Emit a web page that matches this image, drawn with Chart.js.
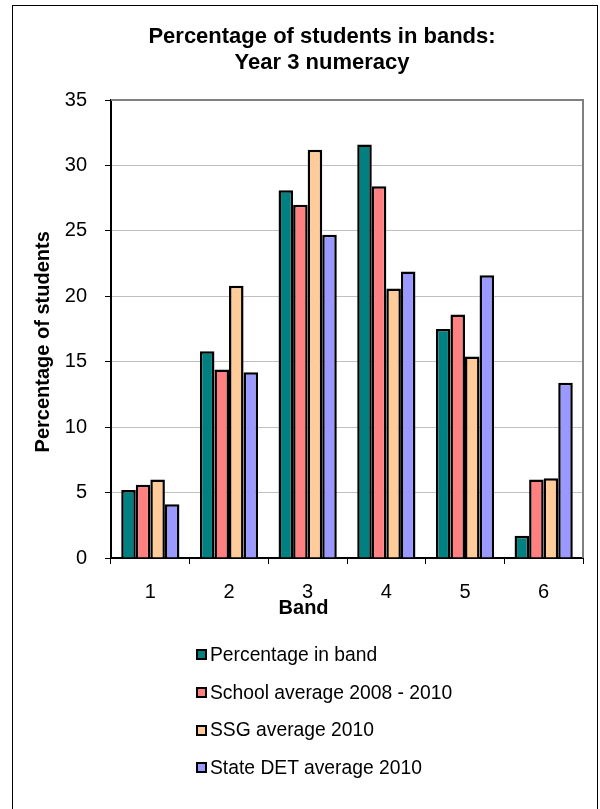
<!DOCTYPE html>
<html><head><meta charset="utf-8">
<script src="https://cdn.jsdelivr.net/npm/chart.js@4"></script>
<style>
html,body{margin:0;padding:0;background:#fff;}
#wrap{position:relative;width:600px;height:809px;overflow:hidden;}
#frame{position:absolute;left:12px;top:5px;width:584px;height:900px;border:1px solid #000;pointer-events:none;}
canvas{position:absolute;left:0;top:0;}
#legend{position:absolute;left:196px;top:636px;font-family:'Liberation Sans',Arial,sans-serif;font-size:19.3px;color:#000;}
.item{display:flex;align-items:center;height:37.7px;white-space:nowrap;}
.box{width:11px;height:11px;box-sizing:border-box;border:2px solid #000;margin-right:3px;}
</style></head>
<body><div id="wrap"><canvas id="c" width="600" height="809"></canvas><div id="frame"></div><div id="legend"></div></div>
<script>
const bands = ['1', '2', '3', '4', '5', '6'];
const percentageInBand = [5.2, 15.8, 28.1, 31.6, 17.5, 1.7];
const schoolAverage = [5.6, 14.4, 27.0, 28.4, 18.6, 6.0];
const ssgAverage = [6.0, 20.8, 31.2, 20.6, 15.4, 6.1];
const stateAverage = [4.1, 14.2, 24.7, 21.9, 21.6, 13.4];
const seriesNames = ['Percentage in band', 'School average 2008 - 2010', 'SSG average 2010', 'State DET average 2010'];
const seriesColors = ['#008080', '#FF8080', '#FFCC99', '#9999FF'];
const titleLines = ['Percentage of students in bands:', 'Year 3 numeracy'];
const yTitle = 'Percentage of students';
const xTitle = 'Band';
const yMin = 0, yMax = 35, yStep = 5;

const FONT = "'Liberation Sans', Arial, sans-serif";
Chart.defaults.font.family = FONT;
Chart.defaults.color = '#000';

const plotBorder = {
  id: 'plotBorder',
  beforeDatasetsDraw(chart) {
    const {ctx, chartArea: a} = chart;
    ctx.save();
    ctx.strokeStyle = '#808080';
    ctx.lineWidth = 2;
    ctx.beginPath();
    ctx.moveTo(a.left, a.top);
    ctx.lineTo(a.right, a.top);
    ctx.lineTo(a.right, a.bottom);
    ctx.stroke();
    ctx.restore();
  }
};

const axisTitles = {
  id: 'axisTitles',
  afterDraw(chart) {
    const {ctx, chartArea: a} = chart;
    const ys = chart.options.scales.y.title, xs = chart.options.scales.x.title;
    ctx.save();
    ctx.fillStyle = '#000';
    ctx.font = 'bold 20px ' + FONT;
    ctx.textAlign = 'center';
    ctx.textBaseline = 'middle';
    ctx.save();
    ctx.translate(a.left - 68, a.top + 0.528 * (a.bottom - a.top));
    ctx.rotate(-Math.PI / 2);
    ctx.fillText(ys.text, 0, 0);
    ctx.restore();
    ctx.fillText(xs.text, a.left + 0.408 * (a.right - a.left), a.bottom + 50);
    ctx.restore();
  }
};

const seriesData = [percentageInBand, schoolAverage, ssgAverage, stateAverage];
const chart = new Chart(document.getElementById('c'), {
  type: 'bar',
  data: {
    labels: bands,
    datasets: seriesNames.map((n, i) => ({
      label: n,
      data: seriesData[i],
      backgroundColor: seriesColors[i],
      borderColor: '#000',
      borderWidth: 2.5,
      categoryPercentage: 0.74,
      barPercentage: 1.0
    }))
  },
  options: {
    responsive: false,
    animation: false,
    layout: {padding: {left: 61, right: 17, top: 0, bottom: 0}},
    plugins: {
      legend: {display: false},
      tooltip: {enabled: false},
      title: {
        display: true,
        text: titleLines,
        color: '#000',
        font: {size: 22, weight: 'bold', lineHeight: 1.2},
        padding: {top: 23.5, bottom: 23.7}
      }
    },
    scales: {
      x: {
        title: {display: false, text: xTitle},
        grid: {drawOnChartArea: false, drawTicks: true, tickLength: 6, tickColor: '#000', offset: true},
        border: {display: true, color: '#000', width: 2},
        ticks: {font: {size: 20}, color: '#000', padding: 16, maxRotation: 0},
        afterFit(s) { s.height = 251; }
      },
      y: {
        min: yMin, max: yMax,
        title: {display: false, text: yTitle},
        grid: {color: '#C0C0C0', lineWidth: 1, drawTicks: true, tickLength: 6, tickColor: '#000'},
        border: {display: true, color: '#000', width: 2},
        ticks: {stepSize: yStep, font: {size: 20}, color: '#000', padding: 18},
        afterFit(s) { s.width = 50; }
      }
    }
  },
  plugins: [plotBorder, axisTitles]
});

const legendEl = document.getElementById('legend');
chart.data.datasets.forEach(ds => {
  const item = document.createElement('div');
  item.className = 'item';
  const box = document.createElement('span');
  box.className = 'box';
  box.style.background = ds.backgroundColor;
  const txt = document.createElement('span');
  txt.textContent = ds.label;
  item.appendChild(box);
  item.appendChild(txt);
  legendEl.appendChild(item);
});
</script>
</body></html>
